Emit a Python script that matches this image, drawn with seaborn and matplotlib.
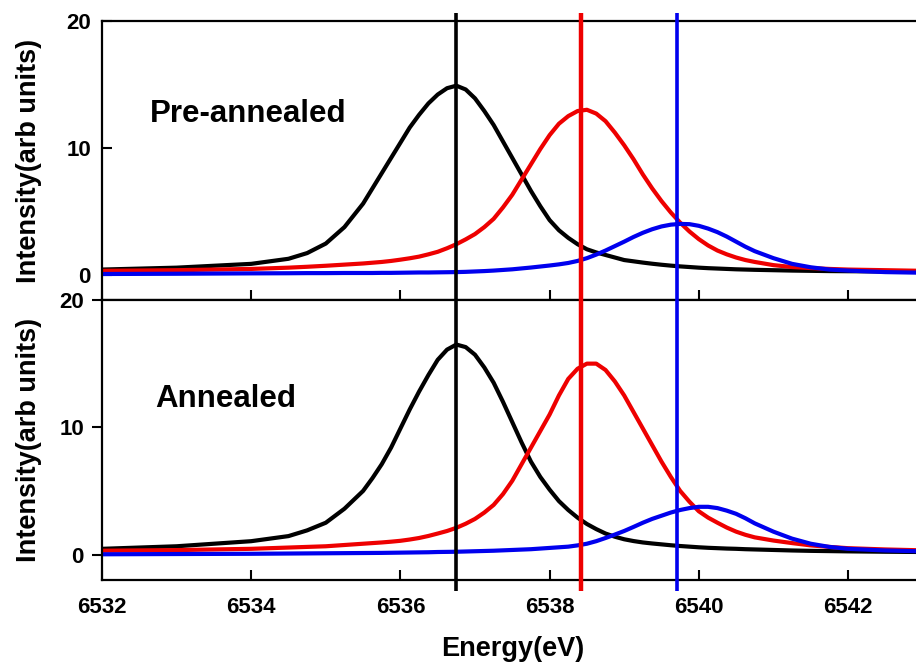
import numpy as np
import pandas as pd
import matplotlib
matplotlib.use("Agg")
import matplotlib.pyplot as plt
import matplotlib.transforms as mtransforms
import seaborn as sns

# ---------------- data ----------------
energy = [6532, 6533, 6534, 6534.5, 6534.75, 6535, 6535.25,
          6535.5, 6535.625, 6535.75, 6535.875, 6536, 6536.125, 6536.25, 6536.375,
          6536.5, 6536.625, 6536.75, 6536.875, 6537, 6537.125, 6537.25, 6537.375,
          6537.5, 6537.625, 6537.75, 6537.875, 6538, 6538.125, 6538.25, 6538.375,
          6538.5, 6538.625, 6538.75, 6538.875, 6539, 6539.125, 6539.25, 6539.375,
          6539.5, 6539.625, 6539.75, 6539.875, 6540, 6540.125, 6540.25, 6540.375,
          6540.5, 6540.625, 6540.75,
          6541, 6541.25, 6541.5, 6541.75, 6542, 6542.5, 6543]

pre_black = [0.40, 0.55, 0.85, 1.25, 1.7, 2.45, 3.75,
             5.6, 6.8, 8.0, 9.2, 10.4, 11.6, 12.6, 13.5,
             14.2, 14.7, 14.9, 14.6, 13.9, 12.9, 11.8, 10.5,
             9.2, 7.9, 6.6, 5.4, 4.3, 3.5, 2.9, 2.4,
             2.0, 1.75, 1.55, 1.35, 1.15, 1.05, 0.95, 0.86,
             0.78, 0.71, 0.65, 0.6, 0.55, 0.51, 0.48, 0.45,
             0.42, 0.4, 0.38,
             0.35, 0.32, 0.30, 0.28, 0.27, 0.25, 0.23]
pre_red = [0.30, 0.35, 0.45, 0.55, 0.62, 0.70, 0.79,
           0.88, 0.94, 1.0, 1.08, 1.18, 1.29, 1.42, 1.6,
           1.8, 2.08, 2.4, 2.78, 3.2, 3.75, 4.4, 5.3,
           6.3, 7.5, 8.7, 9.9, 11.0, 11.9, 12.5, 12.9,
           13.0, 12.7, 12.1, 11.2, 10.2, 9.1, 7.9, 6.8,
           5.8, 4.9, 4.1, 3.4, 2.8, 2.3, 1.9, 1.6,
           1.35, 1.15, 1.0,
           0.75, 0.6, 0.52, 0.45, 0.40, 0.35, 0.30]
pre_blue = [0.05, 0.07, 0.10, 0.11, 0.12, 0.12, 0.13,
            0.13, 0.13, 0.14, 0.14, 0.15, 0.16, 0.17, 0.17,
            0.18, 0.19, 0.2, 0.22, 0.25, 0.28, 0.32, 0.37,
            0.42, 0.49, 0.56, 0.64, 0.72, 0.81, 0.92, 1.08,
            1.3, 1.58, 1.9, 2.25, 2.6, 2.97, 3.3, 3.58,
            3.8, 3.94, 4.0, 3.98, 3.85, 3.63, 3.35, 3.0,
            2.6, 2.2, 1.85,
            1.3, 0.85, 0.58, 0.4, 0.32, 0.2, 0.15]

ann_black = [0.45, 0.65, 1.05, 1.45, 1.9, 2.5, 3.6,
             5.0, 6.0, 7.1, 8.4, 9.9, 11.4, 12.8, 14.1,
             15.3, 16.1, 16.5, 16.3, 15.7, 14.7, 13.5, 12.0,
             10.4, 8.8, 7.3, 6.1, 5.1, 4.2, 3.5, 2.9,
             2.4, 2.0, 1.65, 1.4, 1.2, 1.06, 0.95, 0.87,
             0.8, 0.73, 0.67, 0.62, 0.57, 0.53, 0.5, 0.47,
             0.45, 0.42, 0.4,
             0.36, 0.32, 0.29, 0.27, 0.25, 0.22, 0.2]
ann_red = [0.30, 0.35, 0.45, 0.55, 0.60, 0.65, 0.75,
           0.85, 0.9, 0.95, 1.01, 1.08, 1.18, 1.3, 1.46,
           1.65, 1.85, 2.1, 2.42, 2.8, 3.3, 3.9, 4.75,
           5.8, 7.1, 8.4, 9.7, 11.0, 12.5, 13.8, 14.6,
           15.0, 15.0, 14.5, 13.6, 12.5, 11.2, 9.9, 8.6,
           7.3, 6.1, 5.0, 4.15, 3.4, 2.9, 2.5, 2.12,
           1.8, 1.55, 1.35,
           1.1, 0.9, 0.72, 0.6, 0.5, 0.4, 0.33]
ann_blue = [0.02, 0.04, 0.06, 0.08, 0.09, 0.10, 0.11,
            0.12, 0.125, 0.13, 0.14, 0.15, 0.16, 0.17, 0.18,
            0.2, 0.21, 0.22, 0.24, 0.26, 0.28, 0.3, 0.33,
            0.36, 0.39, 0.42, 0.47, 0.52, 0.57, 0.62, 0.72,
            0.85, 1.05, 1.3, 1.57, 1.85, 2.17, 2.5, 2.8,
            3.05, 3.3, 3.5, 3.65, 3.75, 3.75, 3.65, 3.45,
            3.2, 2.85, 2.45,
            1.8, 1.25, 0.85, 0.6, 0.45, 0.32, 0.25]

components = ["peak1", "peak2", "peak3"]
peak_positions = [6536.75, 6538.42, 6539.71]
peak_colors = ["#000000", "#ee0000", "#0000ee"]
panel_labels = ["Pre-annealed", "Annealed"]
x_ticks = [6532, 6534, 6536, 6538, 6540, 6542]
y_ticks = [0, 10, 20]

# ---------------- style ----------------
sns.set_style("white")
plt.rcParams["font.family"] = ["Liberation Sans", "DejaVu Sans"]
plt.rcParams["font.weight"] = "bold"

W, H = 916, 665
fig = plt.figure(figsize=(W / 100, H / 100), dpi=100)


def px_axes(left, top, right, bottom):
    return fig.add_axes([left / W, 1 - bottom / H, (right - left) / W, (bottom - top) / H])


ax1 = px_axes(102, 21, 922.6, 300)
ax2 = px_axes(102, 300, 922.6, 580)


def panel_frame(black, red, blue):
    n = len(energy)
    return pd.DataFrame({
        "energy": energy * 3,
        "intensity": black + red + blue,
        "component": [components[0]] * n + [components[1]] * n + [components[2]] * n,
    })


palette = dict(zip(components, peak_colors))
for ax, (b, r, bl) in zip([ax1, ax2], [(pre_black, pre_red, pre_blue),
                                       (ann_black, ann_red, ann_blue)]):
    sns.lineplot(data=panel_frame(b, r, bl), x="energy", y="intensity",
                 hue="component", palette=palette, estimator=None,
                 legend=False, linewidth=3.0, ax=ax,
                 solid_joinstyle="round", solid_capstyle="round")
    ax.set_xlim(6532, 6543)
    ax.set_ylim(-2, 20)
    ax.set_xticks(x_ticks)
    ax.set_yticks(y_ticks)
    for sp in ax.spines.values():
        sp.set_color("black")
        sp.set_linewidth(1.6)
    ax.set_xlabel("")

# ticks
ax1.tick_params(axis="x", direction="in", length=7, width=1.5, bottom=True,
                top=False, labelbottom=False, color="black")
ax1.tick_params(axis="y", direction="in", length=7, width=1.5, left=True,
                labelsize=16, pad=8, color="black", labelcolor="black")
ax2.tick_params(axis="x", direction="in", length=7, width=1.5, bottom=True,
                labelsize=16, pad=12, color="black", labelcolor="black")
ax2.tick_params(axis="y", direction="out", length=7, width=1.5, left=True,
                labelsize=16, pad=6, color="black", labelcolor="black")
for ax in (ax1, ax2):
    for lab in ax.get_xticklabels() + ax.get_yticklabels():
        lab.set_fontweight("bold")

# axis labels
for ax in (ax1, ax2):
    ax.set_ylabel("Intensity(arb units)", fontsize=19.5, fontweight="bold", color="black")
    ax.yaxis.set_label_coords(-0.073, 0.5)
ax2.set_xlabel("Energy(eV)", fontsize=19.5, fontweight="bold", color="black",
               va="center")
ax2.xaxis.set_label_coords(0.5, -0.246)

# panel annotations
ax1.text(0.0585, 0.638, panel_labels[0], transform=ax1.transAxes, fontsize=22.5,
         fontweight="bold", ha="left", va="baseline", color="black")
ax2.text(0.0646, 0.619, panel_labels[1], transform=ax2.transAxes, fontsize=22.5,
         fontweight="bold", ha="left", va="baseline", color="black")

# vertical peak-position lines spanning both panels
blend = mtransforms.blended_transform_factory(ax2.transData, fig.transFigure)
for xpos, col, lw in zip(peak_positions, peak_colors, [2.6, 3.2, 2.6]):
    ax2.plot([xpos, xpos], [1 - 13 / H, 1 - 591 / H], transform=blend, color=col,
             lw=lw, clip_on=False, zorder=10, solid_capstyle="butt")

fig.savefig("out.png", dpi=100)
